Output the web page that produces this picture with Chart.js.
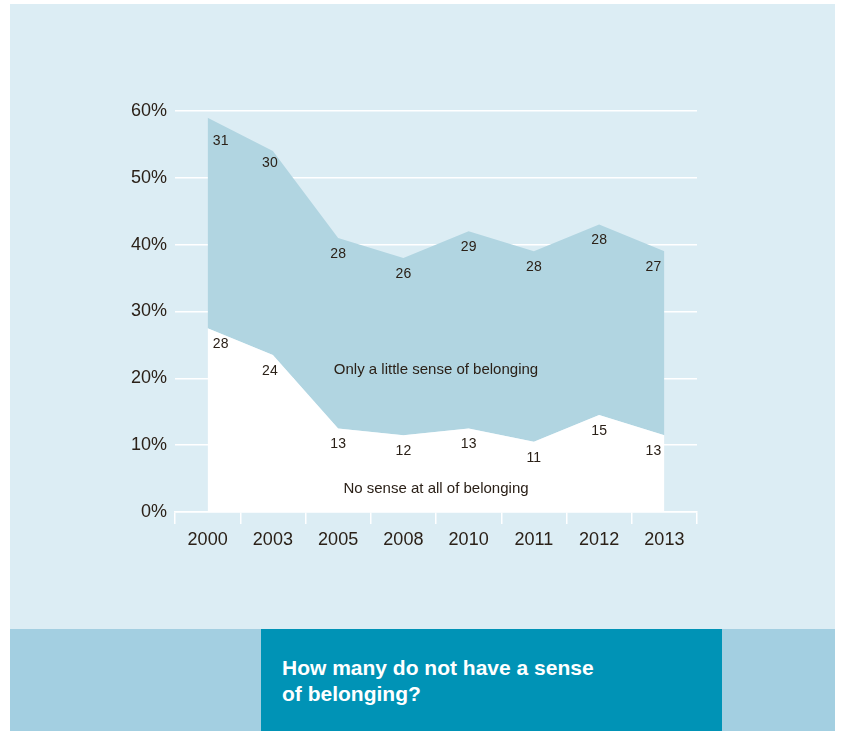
<!DOCTYPE html>
<html>
<head>
<meta charset="utf-8">
<script src="https://cdn.jsdelivr.net/npm/chart.js@4"></script>
<style>
  body { margin: 0; background: #ffffff; width: 842px; height: 731px; position: relative; overflow: hidden; }
  #panel { position: absolute; left: 10px; top: 4px; width: 825px; height: 625px; background: #dcedf4; }
  #band { position: absolute; left: 10px; top: 629px; width: 825px; height: 102px; background: #a3cfe1; }
  #titleBox { position: absolute; left: 261px; top: 629px; width: 461px; height: 102px; background: #0093b6;
    box-sizing: border-box; padding: 26px 0 0 21px; color: #ffffff;
    font: bold 21px "Liberation Sans", Arial, sans-serif; line-height: 26px; }
  #chartWrap { position: absolute; left: 10px; top: 4px; width: 825px; height: 625px; }
</style>
</head>
<body>
<div id="panel"></div>
<div id="band"></div>
<div id="titleBox">How many do not have a sense<br>of belonging?</div>
<div id="chartWrap"><canvas id="myChart" width="825" height="625"></canvas></div>
<script>
const years = ["2000","2003","2005","2008","2010","2011","2012","2013"];
const noSense = [27.5, 23.5, 12.5, 11.5, 12.5, 10.5, 14.5, 11.5];
const littleSense = [31.5, 30.5, 28.5, 26.5, 29.5, 28.5, 28.5, 27.5];
const noSenseLabels = ["28","24","13","12","13","11","15","13"];
const littleLabels = ["31","30","28","26","29","28","28","27"];
const yTicks = [0, 10, 20, 30, 40, 50, 60];

const textColor = "#2b2118";

const valueLabels = {
  id: "valueLabels",
  afterDatasetsDraw(chart) {
    const ctx = chart.ctx;
    const yScale = chart.scales.y;
    ctx.save();
    ctx.fillStyle = textColor;
    ctx.font = '14px "Liberation Sans", Arial, sans-serif';
    ctx.textAlign = "center";
    ctx.textBaseline = "middle";
    const sets = [noSenseLabels, littleLabels];
    sets.forEach(function (labels, d) {
      const pts = chart.getDatasetMeta(d).data;
      pts.forEach(function (p, i) {
        let dx = 0;
        let dy = 16;
        if (i === 0) dx = 13;
        if (i === 1) dx = -3;
        if (i === pts.length - 1) dx = -11;
        if (d === 1 && i === 0) dy = 23;
        if (d === 1 && i === 1) dy = 12;
        ctx.fillText(labels[i], p.x + dx, p.y + dy);
      });
    });
    ctx.font = '15px "Liberation Sans", Arial, sans-serif';
    const pts = chart.getDatasetMeta(0).data;
    const cx = (pts[3].x + pts[4].x) / 2;
    ctx.fillText("Only a little sense of belonging", cx, yScale.getPixelForValue(21.2));
    ctx.fillText("No sense at all of belonging", cx, yScale.getPixelForValue(3.4));
    ctx.restore();
  }
};

new Chart("myChart", {
  type: "line",
  data: {
    labels: years,
    datasets: [{
      label: "No sense at all of belonging",
      data: noSense,
      borderWidth: 0,
      borderColor: "rgba(0,0,0,0)",
      backgroundColor: "#ffffff",
      pointRadius: 0,
      fill: "origin"
    }, {
      label: "Only a little sense of belonging",
      data: littleSense,
      borderWidth: 0,
      borderColor: "rgba(0,0,0,0)",
      backgroundColor: "#b1d5e1",
      pointRadius: 0,
      fill: "-1"
    }]
  },
  options: {
    responsive: false,
    animation: false,
    layout: { padding: { left: 100, right: 138, top: 107, bottom: 77 } },
    plugins: {
      legend: { display: false },
      tooltip: { enabled: false }
    },
    scales: {
      x: {
        offset: true,
        grid: { offset: true, drawOnChartArea: false, color: "#ffffff", lineWidth: 1.5, tickLength: 12 },
        border: { display: true, color: "#ffffff", width: 1.5 },
        ticks: { color: textColor, padding: 5, font: { size: 18, family: '"Liberation Sans", Arial, sans-serif' } },
        afterFit(scale) { scale.height = 40; }
      },
      y: {
        stacked: true,
        min: 0,
        max: 60,
        afterBuildTicks(scale) { scale.ticks = yTicks.map(v => ({ value: v })); },
        grid: { color: "#ffffff", lineWidth: 1.5, drawTicks: false },
        border: { display: false },
        ticks: {
          color: textColor,
          padding: 8,
          font: { size: 18, family: '"Liberation Sans", Arial, sans-serif' },
          callback: v => v + "%"
        },
        afterFit(scale) { scale.width = 65; }
      }
    }
  },
  plugins: [valueLabels]
});
</script>
</body>
</html>
